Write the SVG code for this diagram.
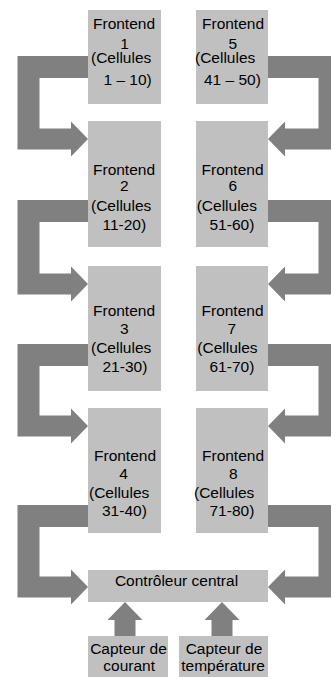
<svg xmlns="http://www.w3.org/2000/svg" width="331" height="677" viewBox="0 0 331 677">
<style>
  .box { fill: #C0C0C0; }
  .arr { fill: #808080; }
  text { font-family: "Liberation Sans", Arial, sans-serif; font-size: 15.5px; fill: #000; }
  .m { text-anchor: middle; }
</style>
<rect width="331" height="677" fill="#FFFFFF"/>
<g id="connectors">
  <path class="arr" d="M88,56 H17.5 V149.5 H71 V156.5 L88,139 L71,121.5 V128.5 H39.5 V78 H88 Z"/>
  <path class="arr" d="M88,200 H17.5 V294.5 H71 V301.5 L88,284 L71,266.5 V273.5 H39.5 V222 H88 Z"/>
  <path class="arr" d="M88,344 H17.5 V436.5 H71 V443.5 L88,426 L71,408.5 V415.5 H39.5 V366 H88 Z"/>
  <path class="arr" d="M88,505 H17.5 V597.5 H71 V604.5 L88,587 L71,569.5 V576.5 H39.5 V527 H88 Z"/>
  <path class="arr" d="M268,56 H340.5 V149.5 H285 V156.5 L268,139 L285,121.5 V128.5 H318.5 V78 H268 Z"/>
  <path class="arr" d="M268,200 H340.5 V294.5 H285 V301.5 L268,284 L285,266.5 V273.5 H318.5 V222 H268 Z"/>
  <path class="arr" d="M268,344 H340.5 V436.5 H285 V443.5 L268,426 L285,408.5 V415.5 H318.5 V366 H268 Z"/>
  <path class="arr" d="M268,505 H340.5 V597.5 H285 V604.5 L268,587 L285,569.5 V576.5 H318.5 V527 H268 Z"/>
  <path class="arr" d="M114.5,636 V620 H107.5 L125,602 L142.5,620 H135.5 V636 Z"/>
  <path class="arr" d="M211.5,636 V620 H204.5 L222,602 L239.5,620 H232.5 V636 Z"/>
</g>
<g id="frontend1">
  <rect class="box" x="88" y="10" width="73" height="94"/>
  <text x="93" y="29">Frontend</text>
  <text class="m" x="124.5" y="48.5">1</text>
  <text x="91" y="62.5">(Cellules</text>
  <text x="103.5" y="85">1 – 10)</text>
</g>
<g id="frontend5">
  <rect class="box" x="196" y="10" width="72" height="94"/>
  <text x="202" y="29">Frontend</text>
  <text class="m" x="232.7" y="48.5">5</text>
  <text x="195" y="62.5">(Cellules</text>
  <text x="204" y="85">41 – 50)</text>
</g>
<g id="frontend2">
  <rect class="box" x="88" y="121" width="73" height="126"/>
  <text x="93" y="174.5">Frontend</text>
  <text class="m" x="124.3" y="191">2</text>
  <text x="91" y="211">(Cellules</text>
  <text x="102.5" y="229.5">11-20)</text>
</g>
<g id="frontend6">
  <rect class="box" x="196" y="121" width="72" height="126"/>
  <text x="201.5" y="174.5">Frontend</text>
  <text class="m" x="232.7" y="191">6</text>
  <text x="196.7" y="211">(Cellules</text>
  <text x="209.5" y="229.5">51-60)</text>
</g>
<g id="frontend3">
  <rect class="box" x="88" y="266" width="73" height="125"/>
  <text x="93" y="316">Frontend</text>
  <text class="m" x="124.3" y="334">3</text>
  <text x="91" y="353">(Cellules</text>
  <text x="102.5" y="372">21-30)</text>
</g>
<g id="frontend7">
  <rect class="box" x="196" y="266" width="72" height="125"/>
  <text x="201.5" y="316">Frontend</text>
  <text class="m" x="231.7" y="334">7</text>
  <text x="197.3" y="353">(Cellules</text>
  <text x="209.5" y="372">61-70)</text>
</g>
<g id="frontend4">
  <rect class="box" x="88" y="408" width="73" height="125"/>
  <text x="94" y="461">Frontend</text>
  <text class="m" x="123.5" y="479">4</text>
  <text x="89" y="497.5">(Cellules</text>
  <text x="102" y="516">31-40)</text>
</g>
<g id="frontend8">
  <rect class="box" x="196" y="408" width="72" height="125"/>
  <text x="202" y="461">Frontend</text>
  <text class="m" x="233.3" y="479">8</text>
  <text x="194" y="497.5">(Cellules</text>
  <text x="209.5" y="516">71-80)</text>
</g>
<g id="controleur">
  <rect class="box" x="88" y="570" width="180" height="32"/>
  <text class="m" x="176.5" y="586">Contrôleur central</text>
</g>
<g id="capteur-courant">
  <rect class="box" x="88" y="636" width="80" height="41"/>
  <text class="m" x="128.5" y="654">Capteur de</text>
  <text class="m" x="129.2" y="671">courant</text>
</g>
<g id="capteur-temperature">
  <rect class="box" x="179" y="636" width="89" height="41"/>
  <text class="m" x="224" y="653.5">Capteur de</text>
  <text class="m" x="223" y="671">température</text>
</g>
</svg>
